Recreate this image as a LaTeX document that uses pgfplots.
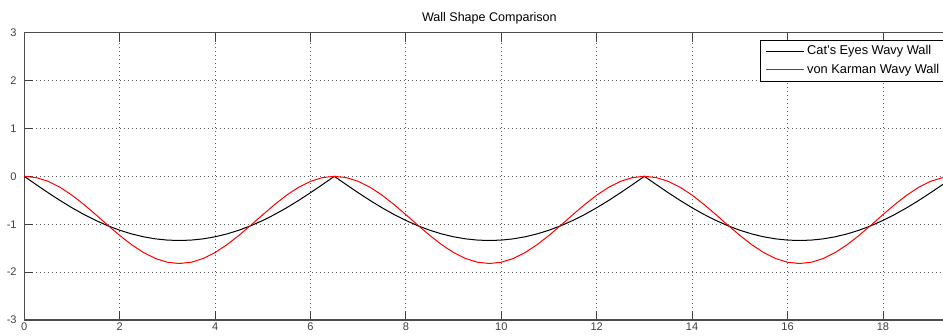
\documentclass[border=0pt]{standalone}
\usepackage{pgfplots}
\pgfplotsset{compat=1.18}
\usepackage{pgfplotstable}
\usepackage{fontspec}
\setmainfont{Liberation Sans}

\pgfplotstableread{
x vk ce
0 0 0
0.25 -0.0264 -0.1728
0.5 -0.1042 -0.3419
0.75 -0.2289 -0.5040
1 -0.3930 -0.6560
1.25 -0.5874 -0.7957
1.5 -0.8003 -0.9211
1.75 -1.0197 -1.0311
2 -1.2327 -1.1250
2.25 -1.4269 -1.2021
2.5 -1.5911 -1.2623
2.75 -1.7158 -1.3053
3 -1.7936 -1.3311
3.25 -1.82 -1.3397
3.5 -1.7936 -1.3311
3.75 -1.7158 -1.3053
4 -1.5911 -1.2623
4.25 -1.4269 -1.2021
4.5 -1.2327 -1.1250
4.75 -1.0197 -1.0311
5 -0.8003 -0.9211
5.25 -0.5874 -0.7957
5.5 -0.3930 -0.6560
5.75 -0.2289 -0.5040
6 -0.1042 -0.3419
6.25 -0.0264 -0.1728
6.5 0 0
6.75 -0.0264 -0.1728
7 -0.1042 -0.3419
7.25 -0.2289 -0.5040
7.5 -0.3930 -0.6560
7.75 -0.5874 -0.7957
8 -0.8003 -0.9211
8.25 -1.0197 -1.0311
8.5 -1.2327 -1.1250
8.75 -1.4269 -1.2021
9 -1.5911 -1.2623
9.25 -1.7158 -1.3053
9.5 -1.7936 -1.3311
9.75 -1.82 -1.3397
10 -1.7936 -1.3311
10.25 -1.7158 -1.3053
10.5 -1.5911 -1.2623
10.75 -1.4269 -1.2021
11 -1.2327 -1.1250
11.25 -1.0197 -1.0311
11.5 -0.8003 -0.9211
11.75 -0.5874 -0.7957
12 -0.3930 -0.6560
12.25 -0.2289 -0.5040
12.5 -0.1042 -0.3419
12.75 -0.0264 -0.1728
13 0 0
13.25 -0.0264 -0.1728
13.5 -0.1042 -0.3419
13.75 -0.2289 -0.5040
14 -0.3930 -0.6560
14.25 -0.5874 -0.7957
14.5 -0.8003 -0.9211
14.75 -1.0197 -1.0311
15 -1.2327 -1.1250
15.25 -1.4269 -1.2021
15.5 -1.5911 -1.2623
15.75 -1.7158 -1.3053
16 -1.7936 -1.3311
16.25 -1.82 -1.3397
16.5 -1.7936 -1.3311
16.75 -1.7158 -1.3053
17 -1.5911 -1.2623
17.25 -1.4269 -1.2021
17.5 -1.2327 -1.1250
17.75 -1.0197 -1.0311
18 -0.8003 -0.9211
18.25 -0.5874 -0.7957
18.5 -0.3930 -0.6560
18.75 -0.2289 -0.5040
19 -0.1042 -0.3419
19.25 -0.0264 -0.1728
19.5 0 0
}\walldata

\begin{document}
\begin{tikzpicture}
\path[use as bounding box] (-18.2pt,-11.25pt) rectangle (689.0pt,240pt);
\clip (-18.2pt,-11.25pt) rectangle (689.0pt,240pt);
\begin{axis}[
  at={(0pt,0pt)}, anchor=south west,
  scale only axis, width=697.6pt, height=215.5pt,
  xmin=0, xmax=19.5, ymin=-3, ymax=3,
  xtick={0,2,4,6,8,10,12,14,16,18},
  xticklabels={0,2,4,6,8,10,12,14,16,18},
  ytick={-3,-2,-1,0,1,2,3},
  yticklabels={-3,-2,-1,0,1,2,3},
  tick align=inside,
  major tick length=6.75pt,
  tick style={black!75, line width=0.6pt},
  axis line style={black!70, line width=0.9pt},
  ticklabel style={font=\fontsize{8.3}{10}\selectfont, text=black!75},
  xticklabel style={yshift=-0.6pt, inner ysep=1.5pt},
  yticklabel style={xshift=-2.2pt},
  grid=major,
  grid style={black!65, line width=0.6pt, dash pattern=on 0.6pt off 2.4pt},
  title={Wall Shape Comparison},
  title style={at={(0.5,1)}, anchor=base, yshift=2.3pt, font=\fontsize{9.4}{11}\selectfont},
  legend cell align=left,
  legend image code/.code={\draw[#1] (0pt,0pt) -- (28.7pt,0pt);},
  legend style={at={(0.7909,0.9746)}, anchor=north west, draw=black, line width=0.5pt,
    fill=white, font=\fontsize{9.6}{11}\selectfont, inner xsep=4pt, inner ysep=1.5pt,
    row sep=0pt,
    nodes={inner xsep=1.75pt, inner ysep=2.35pt, text height=7pt, text depth=2pt}},
]
\addplot[black, line width=0.75pt] table[x=x, y=ce] {\walldata};
\addlegendentry{Cat's Eyes Wavy Wall}
\addplot[red, line width=0.75pt] table[x=x, y=vk] {\walldata};
\addlegendentry{von Karman Wavy Wall}
\end{axis}
\end{tikzpicture}
\end{document}
